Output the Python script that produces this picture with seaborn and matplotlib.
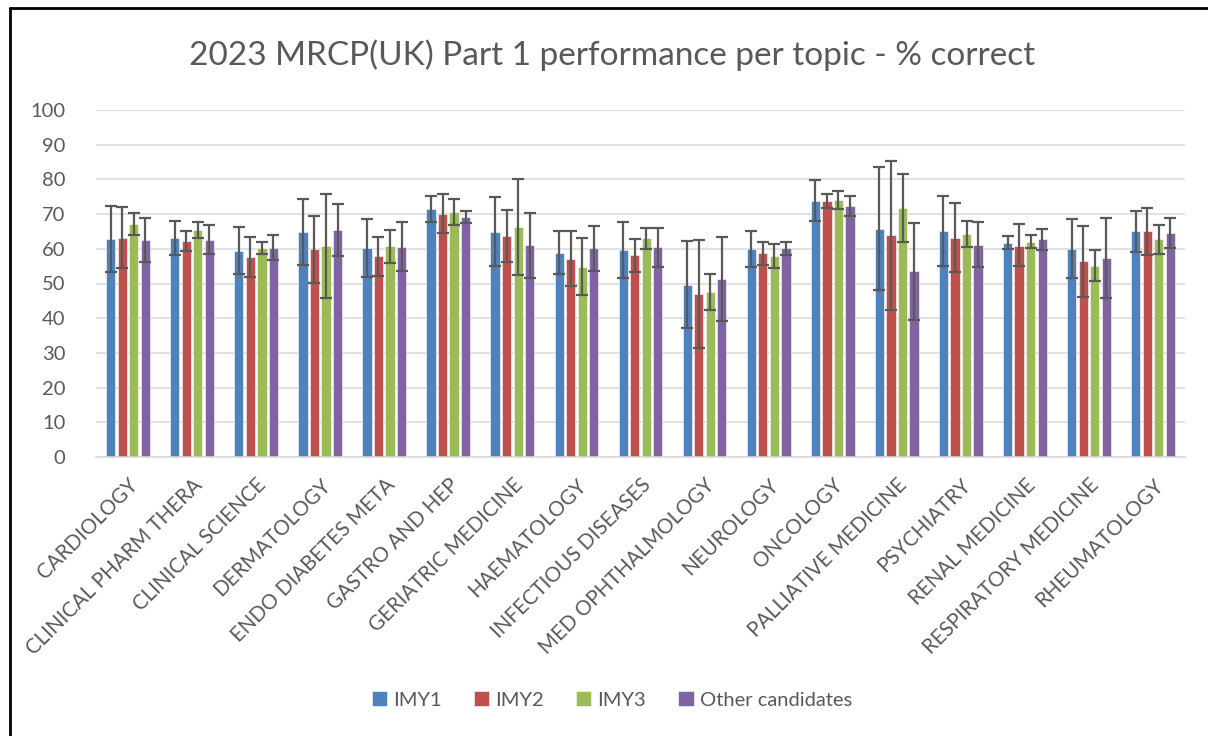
import numpy as np
import pandas as pd
import matplotlib.pyplot as plt
import seaborn as sns

# data
topics = ["CARDIOLOGY", "CLINICAL PHARM THERA", "CLINICAL SCIENCE", "DERMATOLOGY",
          "ENDO DIABETES META", "GASTRO AND HEP", "GERIATRIC MEDICINE", "HAEMATOLOGY",
          "INFECTIOUS DISEASES", "MED OPHTHALMOLOGY", "NEUROLOGY", "ONCOLOGY",
          "PALLIATIVE MEDICINE", "PSYCHIATRY", "RENAL MEDICINE", "RESPIRATORY MEDICINE",
          "RHEUMATOLOGY"]
groups = ["IMY1", "IMY2", "IMY3", "Other candidates"]

imy1 = [62.8, 63.1, 59.4, 64.8, 60.1, 71.4, 64.8, 58.9, 59.7, 49.6, 59.8, 73.9, 65.8, 65.1, 61.6, 60.0, 65.0]
imy2 = [63.0, 62.2, 57.5, 59.8, 57.8, 70.1, 63.7, 57.2, 58.1, 46.9, 58.7, 73.8, 63.9, 63.1, 60.9, 56.4, 65.0]
imy3 = [67.1, 65.3, 60.3, 60.7, 60.7, 70.5, 66.3, 54.8, 63.0, 47.6, 57.8, 74.1, 71.8, 64.3, 62.1, 55.1, 62.7]
other = [62.6, 62.6, 60.2, 65.4, 60.5, 69.2, 61.0, 60.1, 60.4, 51.3, 60.1, 72.3, 53.5, 61.1, 62.7, 57.3, 64.6]

# error bar ends (upper / lower)
imy1_hi = [72.4, 68.1, 66.2, 74.3, 68.6, 75.3, 74.9, 65.1, 67.8, 62.3, 65.1, 79.9, 83.6, 75.2, 63.6, 68.6, 70.9]
imy1_lo = [53.3, 58.2, 52.7, 55.3, 51.9, 67.6, 55.0, 52.7, 51.7, 37.1, 54.8, 67.9, 48.1, 55.0, 59.8, 51.5, 59.1]
imy2_hi = [72.0, 65.1, 63.3, 69.5, 63.5, 75.8, 71.3, 65.1, 62.9, 62.5, 62.1, 75.8, 85.3, 73.2, 67.1, 66.7, 71.8]
imy2_lo = [54.4, 59.5, 52.0, 50.2, 52.3, 64.6, 56.3, 49.3, 53.3, 31.3, 55.3, 71.9, 42.5, 53.2, 55.0, 46.2, 58.3]
imy3_hi = [70.2, 67.6, 62.0, 75.7, 65.4, 74.4, 80.1, 63.0, 66.1, 52.7, 61.5, 76.7, 81.6, 68.1, 63.9, 59.7, 66.9]
imy3_lo = [64.1, 63.2, 58.6, 45.9, 56.0, 66.8, 52.5, 46.8, 59.9, 42.4, 54.4, 71.6, 62.0, 60.5, 60.3, 50.8, 58.6]
other_hi = [69.0, 66.9, 63.9, 73.0, 67.6, 70.9, 70.4, 66.6, 66.1, 63.3, 62.1, 75.3, 67.5, 67.8, 65.8, 68.8, 68.9]
other_lo = [56.3, 58.6, 56.7, 58.0, 53.7, 67.5, 51.7, 53.6, 54.8, 39.3, 58.3, 69.5, 39.6, 54.8, 59.7, 45.7, 60.3]

colors = ["#4F81BD", "#C0504D", "#9BBB59", "#8064A2"]
txt = "#595959"

df = pd.DataFrame({"topic": topics * 4,
                   "group": np.repeat(groups, len(topics)),
                   "value": imy1 + imy2 + imy3 + other})
hi = {"IMY1": imy1_hi, "IMY2": imy2_hi, "IMY3": imy3_hi, "Other candidates": other_hi}
lo = {"IMY1": imy1_lo, "IMY2": imy2_lo, "IMY3": imy3_lo, "Other candidates": other_lo}

sns.set_style("white")
plt.rcParams["font.family"] = ["Lato", "DejaVu Sans"]

fig = plt.figure(figsize=(12.08, 7.36), dpi=100)
ax = fig.add_axes([96 / 1208, 1 - 457 / 736, 1089 / 1208, 347 / 736])

sns.barplot(data=df, x="topic", y="value", hue="group", palette=colors,
            saturation=1, width=0.72, gap=0.2, ax=ax, edgecolor="white",
            linewidth=0.4, legend=True)

# error bars drawn on each seaborn bar
for cont, g in zip(ax.containers, groups):
    xs = [p.get_x() + p.get_width() / 2 for p in cont.patches]
    vals = [p.get_height() for p in cont.patches]
    yerr = [np.array(vals) - np.array(lo[g]), np.array(hi[g]) - np.array(vals)]
    ax.errorbar(xs, vals, yerr=yerr, fmt="none", ecolor="#595959",
                elinewidth=1.6, capsize=4.2, capthick=1.6, zorder=5)

ax.set_ylim(0, 100)
ax.set_xlim(-0.5, len(topics) - 0.5)
ax.set_yticks(range(0, 101, 10))
ax.yaxis.grid(True, color="#D9D9D9", linewidth=1.1)
ax.set_axisbelow(True)
for s in ["top", "right", "left"]:
    ax.spines[s].set_visible(False)
ax.spines["bottom"].set_color("#D9D9D9")
ax.spines["bottom"].set_linewidth(1.1)
ax.tick_params(axis="both", length=0, colors=txt, labelsize=14.5)
ax.tick_params(axis="y", pad=22)
ax.tick_params(axis="x", pad=13)
plt.setp(ax.get_xticklabels(), rotation=45, ha="right", rotation_mode="anchor",
         fontsize=14.8)
ax.set_xlabel("")
ax.set_ylabel("")

fig.suptitle("2023 MRCP(UK) Part 1 performance per topic - % correct",
             x=612 / 1208, y=1 - 55 / 736, va="center", fontsize=24,
             color=txt, fontweight="normal")

ax.legend(loc="center", bbox_to_anchor=(612 / 1208, 1 - 700 / 736),
          bbox_transform=fig.transFigure, ncol=4, frameon=False,
          fontsize=14.5, labelcolor=txt, handlelength=0.75, handleheight=0.75,
          handletextpad=0.3, columnspacing=1.6)

# chart border (left and top edges visible in the reference)
fig.add_artist(plt.Line2D([10 / 1208, 10 / 1208], [0, 1 - 8 / 736],
                          transform=fig.transFigure, color="black", linewidth=2))
fig.add_artist(plt.Line2D([10 / 1208, 1], [1 - 8 / 736, 1 - 8 / 736],
                          transform=fig.transFigure, color="black", linewidth=2))

fig.savefig("out.png", dpi=100)
